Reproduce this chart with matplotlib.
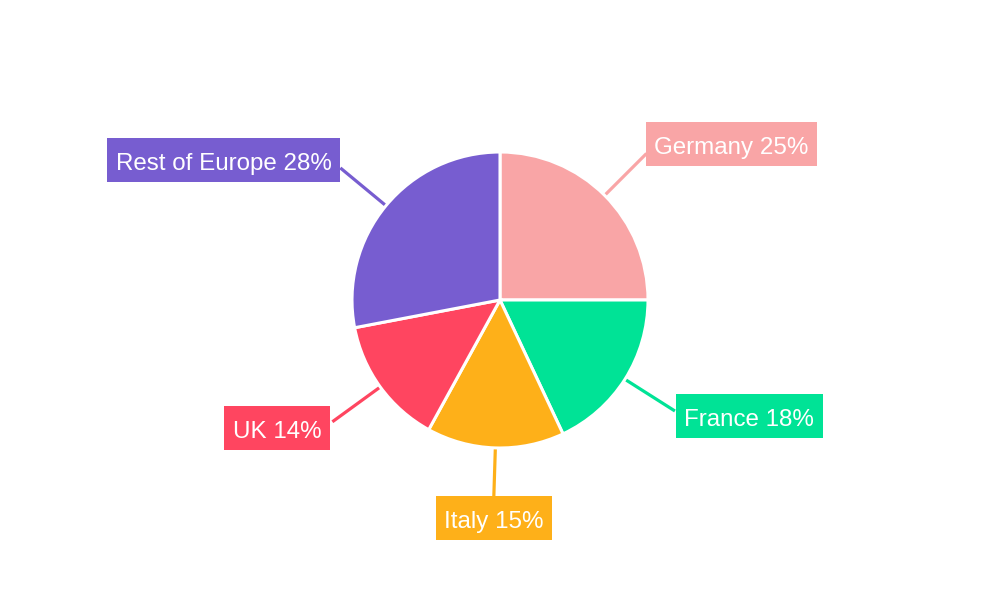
import matplotlib
matplotlib.use("Agg")
import matplotlib.pyplot as plt
from matplotlib.patches import Rectangle
import numpy as np

categories = ["Germany", "France", "Italy", "UK", "Rest of Europe"]
values = [25, 18, 15, 14, 28]
colors = ["#F9A5A6", "#00E396", "#FEB019", "#FF4560", "#775DD0"]

plt.rcParams['font.family'] = ['Liberation Sans', 'DejaVu Sans']

fig = plt.figure(figsize=(10, 6), dpi=100)
ax = fig.add_axes([0, 0, 1, 1])

cx, cy, R = 500, 300, 148
ax.pie(values, colors=colors, startangle=90, counterclock=False,
       center=(cx, cy), radius=R, frame=True,
       wedgeprops=dict(edgecolor='white', linewidth=2.2))
ax.set_xlim(0, 1000)
ax.set_ylim(0, 600)
ax.set_aspect('equal')
ax.axis('off')

# label placement: (text anchor x, box centre y, ha)
label_place = [
    (654.5, 600 - 144, 'left'),
    (684.5, 600 - 416, 'left'),
    (494, 600 - 518, 'center'),
    (321.5, 600 - 428, 'right'),
    (331.5, 600 - 160, 'right'),
]
padx, box_h = 8.5, 44

fig.canvas.draw()
renderer = fig.canvas.get_renderer()

total = sum(values)
cum = 0
for cat, v, col, (tx, by, ha) in zip(categories, values, colors, label_place):
    mid = 90 - (cum + v / 2) / total * 360
    cum += v
    a = np.deg2rad(mid)
    x0, y0 = cx + 1.01 * R * np.cos(a), cy + 1.01 * R * np.sin(a)
    x1, y1 = cx + 1.4 * R * np.cos(a), cy + 1.4 * R * np.sin(a)
    ax.plot([x0, x1], [y0, y1], color=col, lw=2.3, solid_capstyle='butt', zorder=3)
    t = ax.text(tx, by - 10, f"{cat} {v}%", ha=ha, va='baseline', color='white',
                fontsize=17.4, zorder=5)
    ext = t.get_window_extent(renderer=renderer)
    (ex0, _), (ex1, _) = ax.transData.inverted().transform([[ext.x0, 0], [ext.x1, 0]])
    ax.add_patch(Rectangle((ex0 - padx, by - box_h / 2), (ex1 - ex0) + 2 * padx, box_h,
                           facecolor=col, edgecolor='none', zorder=4))

fig.savefig("out.png", dpi=100, facecolor='white')
